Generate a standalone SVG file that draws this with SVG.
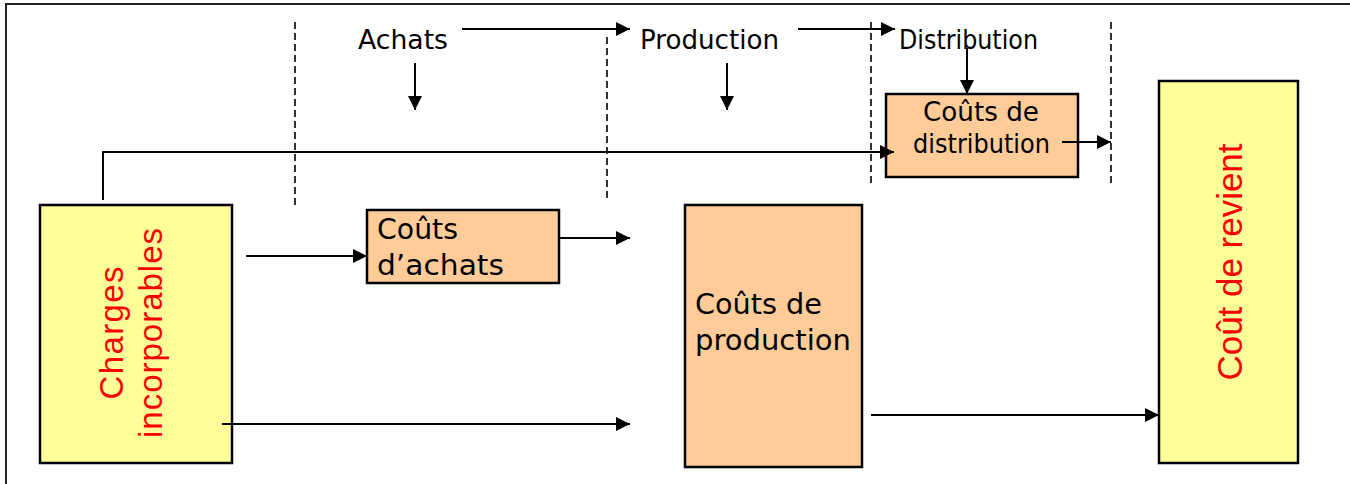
<svg xmlns="http://www.w3.org/2000/svg" width="1350" height="484" viewBox="0 0 1350 484">
<style>
.frame{fill:none;stroke:#222;stroke-width:2}
.dash{stroke:#000;stroke-width:1.6;stroke-dasharray:7 4;fill:none}
.arr{stroke:#000;stroke-width:2;fill:none;marker-end:url(#ah)}
.yel{fill:#FFFF99;stroke:#000;stroke-width:2.5}
.org{fill:#FFCC99;stroke:#000;stroke-width:2.5}
.lbl{font-family:"DejaVu Sans","Liberation Sans",sans-serif;fill:#000}
.red{font-family:"Liberation Sans",Arial,sans-serif;fill:#FF0000;text-anchor:middle}
</style>
<defs>
<marker id="ah" markerUnits="userSpaceOnUse" markerWidth="15" markerHeight="15" refX="14" refY="7" orient="auto">
<path d="M0,0 L14,7 L0,14 z" fill="#000"/>
</marker>
</defs>
<rect class="frame" x="6" y="4" width="1400" height="520"/>
<g id="phases">
<line class="dash" x1="295" y1="22" x2="295" y2="207"/>
<line class="dash" x1="607" y1="37" x2="607" y2="200"/>
<line class="dash" x1="871" y1="22" x2="871" y2="183"/>
<line class="dash" x1="1111" y1="22" x2="1111" y2="183"/>
</g>
<g id="achats"><text class="lbl" x="358" y="49" font-size="26" textLength="90" lengthAdjust="spacingAndGlyphs">Achats</text></g>
<g id="production"><text class="lbl" x="640" y="49" font-size="26" textLength="139" lengthAdjust="spacingAndGlyphs">Production</text></g>
<g id="distribution"><text class="lbl" x="899" y="49" font-size="26" textLength="139" lengthAdjust="spacingAndGlyphs">Distribution</text></g>
<g id="couts-distribution">
<rect class="org" x="886" y="94" width="192" height="83"/>
<text class="lbl" x="923" y="121" font-size="26" textLength="116" lengthAdjust="spacingAndGlyphs">Coûts de</text>
<text class="lbl" x="913" y="153" font-size="26" textLength="137" lengthAdjust="spacingAndGlyphs">distribution</text>
</g>
<g id="charges">
<rect class="yel" x="40" y="205" width="192" height="258"/>
<text class="red" font-size="33" transform="translate(123,333) rotate(-90)" textLength="133">Charges</text>
<text class="red" font-size="33" transform="translate(162,333) rotate(-90)" textLength="210">incorporables</text>
</g>
<g id="couts-achats">
<rect class="org" x="367" y="210" width="192" height="73"/>
<text class="lbl" x="377" y="239" font-size="28" textLength="81" lengthAdjust="spacingAndGlyphs">Coûts</text>
<text class="lbl" x="377" y="275" font-size="28" textLength="127" lengthAdjust="spacingAndGlyphs">d’achats</text>
</g>
<g id="couts-production">
<rect class="org" x="685" y="205" width="177" height="262"/>
<text class="lbl" x="695" y="314" font-size="28" textLength="127" lengthAdjust="spacingAndGlyphs">Coûts de</text>
<text class="lbl" x="695" y="350" font-size="28" textLength="156" lengthAdjust="spacingAndGlyphs">production</text>
</g>
<g id="cout-revient">
<rect class="yel" x="1159" y="81" width="139" height="382"/>
<text class="red" font-size="35" transform="translate(1242,262) rotate(-90)" textLength="237">Coût de revient</text>
</g>
<g id="connectors">
<line class="arr" x1="462" y1="29" x2="630" y2="29"/>
<line class="arr" x1="798" y1="29" x2="895" y2="29"/>
<line class="arr" x1="415" y1="63" x2="415" y2="110"/>
<line class="arr" x1="727" y1="63" x2="727" y2="110"/>
<line class="arr" x1="967" y1="48" x2="967" y2="94"/>
<path class="arr" d="M103,200 V152 H894"/>
<line class="arr" x1="1062" y1="142" x2="1111" y2="142"/>
<line class="arr" x1="246" y1="256" x2="367" y2="256"/>
<line class="arr" x1="559" y1="238" x2="630" y2="238"/>
<line class="arr" x1="222" y1="424" x2="630" y2="424"/>
<line class="arr" x1="871" y1="415" x2="1159" y2="415"/>
</g>
</svg>
